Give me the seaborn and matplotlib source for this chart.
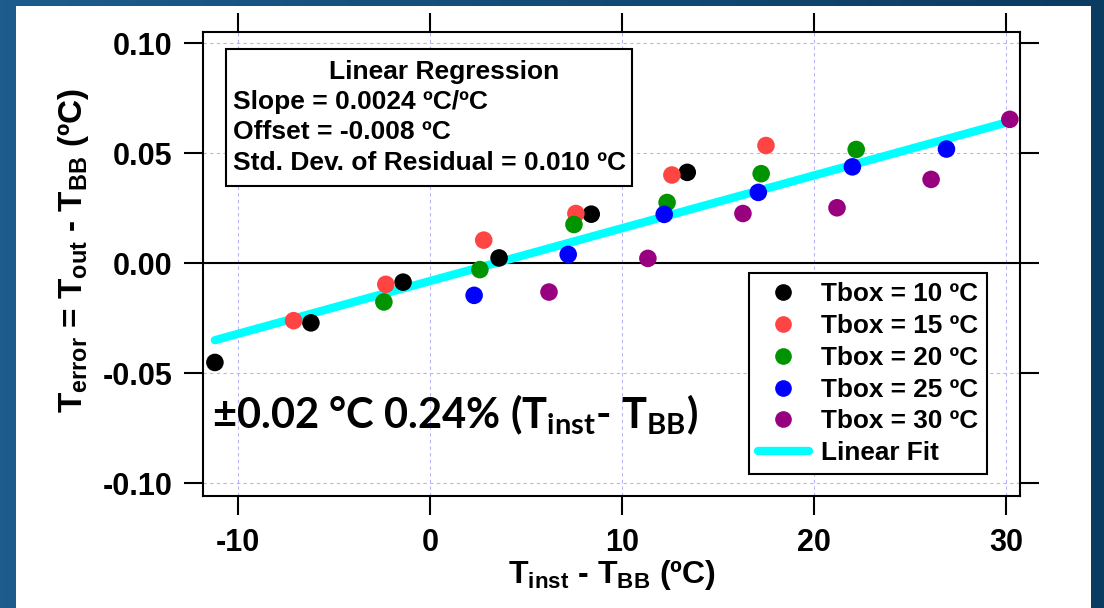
import numpy as np
import pandas as pd
import matplotlib
matplotlib.use('Agg')
import matplotlib.pyplot as plt
from matplotlib.patches import Rectangle
from matplotlib.lines import Line2D
from matplotlib.colors import LinearSegmentedColormap
import seaborn as sns

# ---- data ----
tbox_labels = ['Tbox = 10 ºC', 'Tbox = 15 ºC', 'Tbox = 20 ºC', 'Tbox = 25 ºC', 'Tbox = 30 ºC']

tbox10_x = [-11.2, -6.2, -1.4, 3.6, 8.4, 13.4]
tbox10_y = [-0.045, -0.027, -0.0085, 0.0025, 0.0224, 0.0414]
tbox15_x = [-7.1, -2.3, 2.8, 7.6, 12.6, 17.5]
tbox15_y = [-0.026, -0.0095, 0.0106, 0.0227, 0.0402, 0.0536]
tbox20_x = [-2.4, 2.6, 7.5, 12.35, 17.25, 22.2]
tbox20_y = [-0.0175, -0.0028, 0.0177, 0.0277, 0.0408, 0.0518]
tbox25_x = [2.3, 7.2, 12.2, 17.1, 22.0, 26.9]
tbox25_y = [-0.0145, 0.0041, 0.0223, 0.0323, 0.0439, 0.052]
tbox30_x = [6.2, 11.35, 16.3, 21.2, 26.1, 30.2]
tbox30_y = [-0.013, 0.0023, 0.0227, 0.0253, 0.0382, 0.0655]

fit_slope = 0.0024
fit_offset = -0.008

x_ticks = [-10, 0, 10, 20, 30]
y_ticks = [-0.10, -0.05, 0.00, 0.05, 0.10]

colors = ['#000000', '#ff4444', '#009400', '#0000ff', '#990080']

# ---- build long-form table ----
xs = [tbox10_x, tbox15_x, tbox20_x, tbox25_x, tbox30_x]
ys = [tbox10_y, tbox15_y, tbox20_y, tbox25_y, tbox30_y]
df = pd.concat([pd.DataFrame({'x': x, 'y': y, 'Tbox': lab})
                for x, y, lab in zip(xs, ys, tbox_labels)], ignore_index=True)

fit_x = np.array([df['x'].min(), df['x'].max()])
fit_df = pd.DataFrame({'x': fit_x, 'y': fit_slope * fit_x + fit_offset})

# ---- style ----
sns.set_style('ticks')
plt.rcParams['font.family'] = ['Liberation Sans', 'DejaVu Sans']
plt.rcParams['font.weight'] = 'bold'
plt.rcParams['text.color'] = 'black'
plt.rcParams['axes.labelcolor'] = 'black'
plt.rcParams['xtick.color'] = 'black'
plt.rcParams['ytick.color'] = 'black'
plt.rcParams['axes.unicode_minus'] = False
plt.rcParams['mathtext.fontset'] = 'custom'
plt.rcParams['mathtext.bf'] = 'Liberation Sans:bold'
plt.rcParams['mathtext.rm'] = 'Liberation Sans:bold'
plt.rcParams['mathtext.sf'] = 'Lato:bold'

W, H = 1104, 608
fig = plt.figure(figsize=(W / 100, H / 100), dpi=100)

# slide background (blue gradient) + white panel
bg = fig.add_axes([0, 0, 1, 1], zorder=-10)
cmap = LinearSegmentedColormap.from_list('slide', ['#1d5c8c', '#0a3b61'])
bg.imshow(np.linspace(0, 1, 256)[None, :], aspect='auto', cmap=cmap, extent=[0, 1, 0, 1])
bg.set_axis_off()
fig.patches.append(Rectangle((16 / W, 0), (1091 - 16) / W, 1 - 6 / H,
                             transform=fig.transFigure, facecolor='white',
                             edgecolor='none', zorder=-5))

ax = fig.add_axes([203 / W, 1 - 496 / H, (1020 - 203) / W, (496 - 32) / H])
ax.set_facecolor('white')

# grid + zero line
ax.grid(True, color='#b4b4ff', linestyle=(0, (3, 3)), linewidth=0.8)
ax.axhline(0, color='black', linewidth=1.5, zorder=2)

# linear fit
sns.lineplot(data=fit_df, x='x', y='y', ax=ax, color='#00ffff', linewidth=6,
             legend=False, zorder=3)

# data points
sns.scatterplot(data=df, x='x', y='y', hue='Tbox', palette=colors, s=160,
                edgecolor='none', ax=ax, legend=False, zorder=4)

ax.set_xlim(-11.82, 30.73)
ax.set_ylim(-0.1057, 0.1052)
ax.set_xticks(x_ticks)
ax.set_yticks(y_ticks)
ax.set_yticklabels([f'{v:.2f}' for v in y_ticks])
ax.tick_params(direction='out', length=14, width=1.5, top=True, right=True,
               labeltop=False, labelright=False, labelsize=22, color='black')
ax.tick_params(axis='x', pad=9)
ax.tick_params(axis='y', pad=8)
for sp in ax.spines.values():
    sp.set_linewidth(1.5)
    sp.set_color('black')

ax.set_xlabel(r'T$_{\mathbf{inst}}$ - T$_{\mathbf{BB}}$ (ºC)', fontsize=23,
              fontweight='bold', labelpad=0)
ax.set_ylabel(r'T$_{\mathbf{error}}$ = T$_{\mathbf{out}}$ - T$_{\mathbf{BB}}$ (ºC)',
              fontsize=24, fontweight='bold', labelpad=8)
ax.yaxis.label.set_y(0.53)

# regression text box
ax.add_patch(Rectangle((0.0282, 0.668), 0.525 - 0.0282, 0.9634 - 0.668,
                       transform=ax.transAxes, facecolor='white',
                       edgecolor='black', linewidth=1.5, zorder=5))
box_font = 19
ax.text(0.295, 0.9138, 'Linear Regression', transform=ax.transAxes, ha='center',
        va='center', fontsize=box_font, fontweight='bold', zorder=6)
box_lines = ['Slope = 0.0024 ºC/ºC', 'Offset = -0.008 ºC',
             'Std. Dev. of Residual = 0.010 ºC']
for yy, line in zip([0.8498, 0.7838, 0.717], box_lines):
    ax.text(0.0371, yy, line, transform=ax.transAxes, ha='left', va='center',
            fontsize=box_font, fontweight='bold', zorder=6)

# big annotation
ax.text(0.011, 0.1466,
        r'±0.02 °C 0.24% (T$_{\mathsf{inst}}$- T$_{\mathsf{BB}}$)',
        transform=ax.transAxes, ha='left', va='baseline', fontsize=30,
        family=['Lato', 'DejaVu Sans'], fontweight='bold', zorder=6)

# legend
handles = [Line2D([], [], linestyle='none', marker='o', markersize=12,
                  markerfacecolor=c, markeredgecolor='none') for c in colors]
handles.append(Line2D([], [], color='#00ffff', linewidth=6))
labels = tbox_labels + ['Linear Fit']
leg = ax.legend(handles, labels, loc='upper right', bbox_to_anchor=(0.9596, 0.4806),
                borderaxespad=0, frameon=True, fancybox=False, framealpha=1,
                edgecolor='black', fontsize=18.8, handlelength=1.95,
                handletextpad=0.46, labelspacing=0.3, borderpad=0.35)
leg.get_frame().set_linewidth(1.5)
for t in leg.get_texts():
    t.set_fontweight('bold')
leg.set_zorder(7)

fig.savefig('out.png', dpi=100)
